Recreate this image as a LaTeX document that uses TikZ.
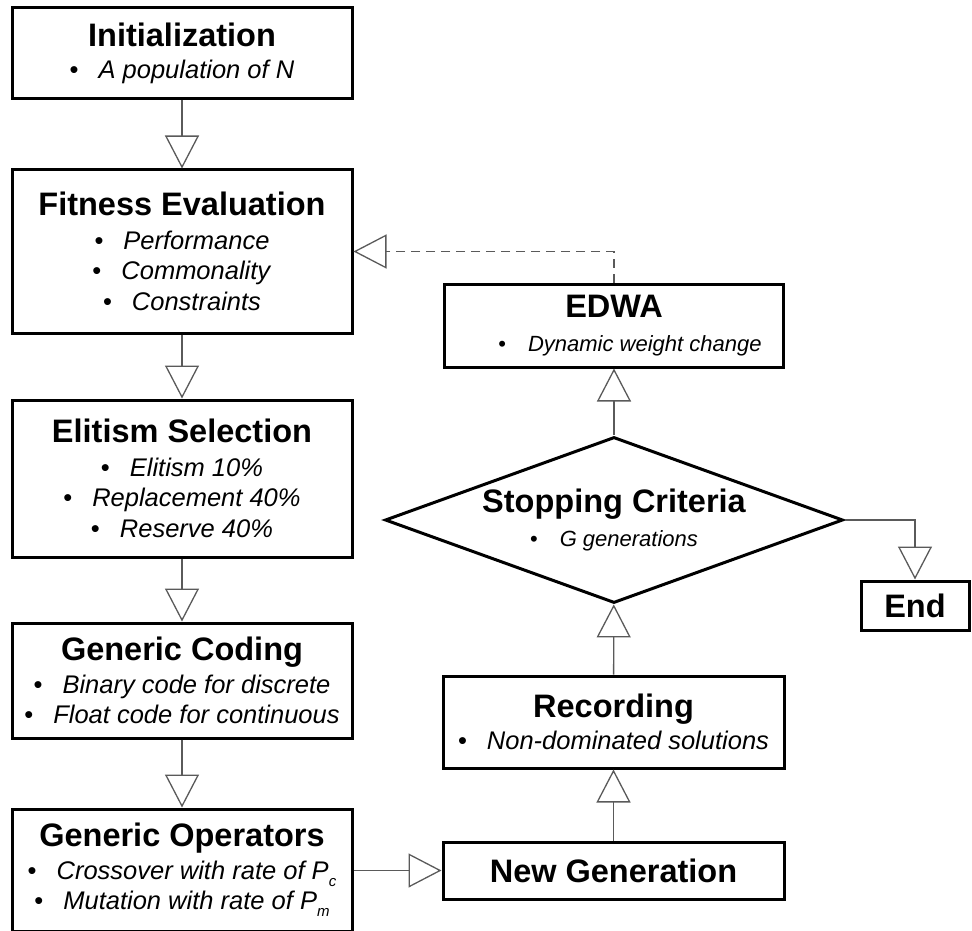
\documentclass[tikz,border=0pt]{standalone}
\usepackage{fontspec}
\setmainfont{Liberation Sans}
\usetikzlibrary{arrows.meta,shapes.geometric}
\definecolor{linegray}{RGB}{90,90,90}
\newcommand\ttl[1]{{\fontsize{32.5}{36}\selectfont\bfseries #1}}
\newcommand\itm[1]{•\hspace{20pt}\textit{#1}}
% smaller bullet line used in the loop boxes
\newcommand\smallitm[1]{{\fontsize{22}{26}\selectfont •\hspace{22pt}\textit{#1}}}
\newcommand\itemsize{\fontsize{25.5}{30.5}\selectfont}
\newcommand\sub[1]{\raisebox{-7pt}{\fontsize{15}{15}\selectfont\textit{#1}}}
\begin{document}
\begin{tikzpicture}[x=1pt,y=-1pt,
  box/.style={draw=black,line width=3pt,fill=white,minimum width=340pt,
    inner sep=0pt,align=center,font=\itemsize},
  decision/.style={diamond,draw=black,line width=3pt,fill=white,aspect=2.77,
    minimum width=458pt,minimum height=166pt,inner sep=0pt,align=center,font=\itemsize},
  conn/.style={draw=linegray,line width=1.3pt,
    -{Triangle[length=33pt,width=34pt,fill=white]}},
  feedback/.style={conn,dash pattern=on 9pt off 6pt}]
\useasboundingbox (0,0) rectangle (972,931);

% main pipeline (left column)
\node[box,minimum height=91pt] (init) at (182,53.5)
  {\ttl{Initialization}\\[2pt] \itm{A population of N}};
\node[box,minimum height=163pt] (fit) at (182,251.5)
  {\ttl{Fitness Evaluation}\\[3pt] \itm{Performance}\\ \itm{Commonality}\\ \itm{Constraints}};
\node[box,minimum height=157pt] (elite) at (182,478.5)
  {\ttl{Elitism Selection}\\[3pt] \itm{Elitism 10\%}\\ \itm{Replacement 40\%}\\ \itm{Reserve 40\%}};
\node[box,minimum height=115pt] (coding) at (182,680.5)
  {\ttl{Generic Coding}\\[2pt] \itm{Binary code for discrete}\\ \itm{Float code for continuous}};
\node[box,minimum height=122pt] (ops) at (182,870)
  {\ttl{Generic Operators}\\[2pt]
   \itm{Crossover with rate of P}\sub{c}\\
   \itm{Mutation with rate of P}\sub{m}};

% loop (right column)
\node[box,minimum width=341pt,minimum height=57pt] (newgen) at (613.5,870.5)
  {\ttl{New Generation}};
\node[box,minimum width=341pt,minimum height=92pt] (rec) at (613.5,722)
  {\ttl{Recording}\\[2pt] \itm{Non-dominated solutions}};
\node[decision] (stop) at (614,520)
  {\ttl{Stopping Criteria}\\[4pt] \smallitm{G generations}};
\node[box,minimum width=339pt,minimum height=83pt] (edwa) at (614,325.5)
  {\ttl{EDWA}\\[4pt] \hspace*{32pt}\smallitm{Dynamic weight change}};
\node[box,minimum width=108pt,minimum height=49pt] (end) at (915,605.5)
  {\ttl{End}};

% connectors
\draw[conn] (init) -- (fit);
\draw[conn] (fit) -- (elite);
\draw[conn] (elite) -- (coding);
\draw[conn] (coding) -- (ops);
\draw[conn] (ops.east |- newgen.west) -- (newgen.west);
\draw[conn] (newgen) -- (rec);
\draw[conn] (rec) -- (stop);
\draw[conn] (stop) -- (edwa);
\draw[conn] (stop.east) -| (end.north);
\draw[feedback] (edwa.north) |- (fit.east);
\end{tikzpicture}
\end{document}
